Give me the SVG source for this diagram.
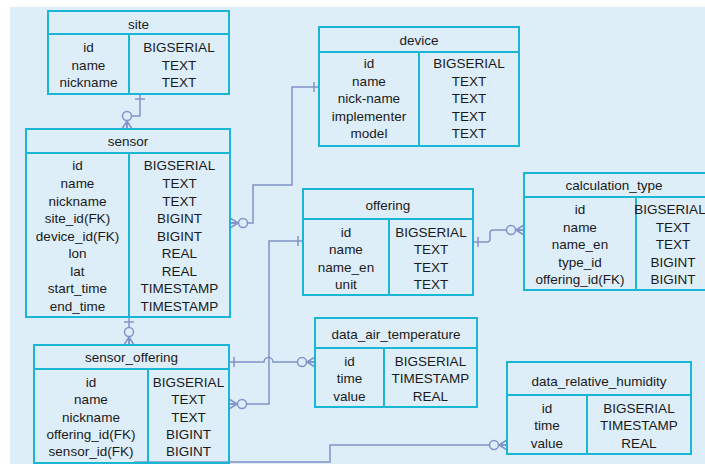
<svg xmlns="http://www.w3.org/2000/svg" width="705" height="464" viewBox="0 0 705 464">
<defs>
<style>
.bg{fill:#ddeef9}
.box{fill:none;stroke:#1ab6d6;stroke-width:2}
.t{font-family:"Liberation Sans","Noto Sans",Arial,sans-serif;font-size:13.5px;fill:#1a1a1a;text-anchor:middle}
.c{fill:none;stroke:#8393c9;stroke-width:1.5}
</style>
<marker id="one" markerUnits="userSpaceOnUse" orient="auto" viewBox="-2 -8 12 16" refX="0" refY="0" markerWidth="12" markerHeight="16" overflow="visible">
<path d="M5,-5 V5" fill="none" stroke="#8393c9" stroke-width="1.5"/>
</marker>
<marker id="many0" markerUnits="userSpaceOnUse" orient="auto" viewBox="-20 -8 22 16" refX="0" refY="0" markerWidth="22" markerHeight="16" overflow="visible">
<path d="M-8,0 L0,-5 M-8,0 L0,5 M-8,0 L0,0" fill="none" stroke="#8393c9" stroke-width="1.5"/>
<circle cx="-13" cy="0" r="4.5" fill="#ddeef9" stroke="#8393c9" stroke-width="1.5"/>
</marker>
</defs>
<rect x="0" y="0" width="705" height="464" fill="#ffffff"/>
<rect class="bg" x="10" y="7" width="695" height="457"/>

<g id="connectors">
<path class="c" d="M140,94 V116 H127 V129" marker-start="url(#one)" marker-end="url(#many0)"/>
<path class="c" d="M319,87 H292 V185 H253 V223 H230" marker-start="url(#one)" marker-end="url(#many0)"/>
<path class="c" d="M303,241 H269 V404 H229" marker-start="url(#one)" marker-end="url(#many0)"/>
<path class="c" d="M473,242 H487 Q490,242 490,239 V233 Q490,230 493,230 H524" marker-start="url(#one)" marker-end="url(#many0)"/>
<path class="c" d="M229,362 H264 A4.5,4.5 0 0 1 273,362 H315" marker-start="url(#one)" marker-end="url(#many0)"/>
<path class="c" d="M129,317 V345" marker-start="url(#one)" marker-end="url(#many0)"/>
<path class="c" d="M135,464 V462 H330 V445 H507" marker-end="url(#many0)"/>
</g>

<g id="site">
<rect class="box" x="48" y="11" width="181" height="83"/>
<path class="box" d="M48,34 H229 M129,34 V94"/>
<text class="t" x="138.5" y="29">site</text>
<text class="t" x="88.5" y="52">id</text><text class="t" x="179" y="52">BIGSERIAL</text>
<text class="t" x="88.5" y="70">name</text><text class="t" x="179" y="70">TEXT</text>
<text class="t" x="88.5" y="87">nickname</text><text class="t" x="179" y="87">TEXT</text>
</g>

<g id="device">
<rect class="box" x="319" y="27" width="200" height="119"/>
<path class="box" d="M319,52 H519 M419,52 V146"/>
<text class="t" x="419" y="45">device</text>
<text class="t" x="369" y="68">id</text><text class="t" x="469" y="68">BIGSERIAL</text>
<text class="t" x="369" y="86">name</text><text class="t" x="469" y="86">TEXT</text>
<text class="t" x="369" y="103">nick-name</text><text class="t" x="469" y="103">TEXT</text>
<text class="t" x="369" y="121">implementer</text><text class="t" x="469" y="121">TEXT</text>
<text class="t" x="369" y="138">model</text><text class="t" x="469" y="138">TEXT</text>
</g>

<g id="sensor">
<rect class="box" x="26" y="129" width="204" height="188"/>
<path class="box" d="M26,153 H230 M129,153 V317"/>
<text class="t" x="128" y="146">sensor</text>
<text class="t" x="77.5" y="170">id</text><text class="t" x="179.5" y="170">BIGSERIAL</text>
<text class="t" x="77.5" y="188">name</text><text class="t" x="179.5" y="188">TEXT</text>
<text class="t" x="77.5" y="206">nickname</text><text class="t" x="179.5" y="206">TEXT</text>
<text class="t" x="77.5" y="223">site_id(FK)</text><text class="t" x="179.5" y="223">BIGINT</text>
<text class="t" x="77.5" y="241">device_id(FK)</text><text class="t" x="179.5" y="241">BIGINT</text>
<text class="t" x="77.5" y="258">lon</text><text class="t" x="179.5" y="258">REAL</text>
<text class="t" x="77.5" y="276">lat</text><text class="t" x="179.5" y="276">REAL</text>
<text class="t" x="77.5" y="293">start_time</text><text class="t" x="179.5" y="293">TIMESTAMP</text>
<text class="t" x="77.5" y="311">end_time</text><text class="t" x="179.5" y="311">TIMESTAMP</text>
</g>

<g id="offering">
<rect class="box" x="303" y="189" width="170" height="106"/>
<path class="box" d="M303,219 H473 M389,219 V295"/>
<text class="t" x="388" y="210">offering</text>
<text class="t" x="346" y="237">id</text><text class="t" x="431" y="237">BIGSERIAL</text>
<text class="t" x="346" y="254">name</text><text class="t" x="431" y="254">TEXT</text>
<text class="t" x="346" y="272">name_en</text><text class="t" x="431" y="272">TEXT</text>
<text class="t" x="346" y="289">unit</text><text class="t" x="431" y="289">TEXT</text>
</g>

<g id="calculation_type">
<rect class="box" x="524" y="173" width="188" height="117"/>
<path class="box" d="M524,197 H712 M636,197 V290"/>
<text class="t" x="614" y="190">calculation_type</text>
<text class="t" x="580" y="214">id</text><text class="t" x="670" y="214" font-size="12.5">BIGSERIAL</text>
<text class="t" x="580" y="232">name</text><text class="t" x="673" y="232">TEXT</text>
<text class="t" x="580" y="249">name_en</text><text class="t" x="673" y="249">TEXT</text>
<text class="t" x="580" y="267">type_id</text><text class="t" x="673" y="267">BIGINT</text>
<text class="t" x="580" y="284">offering_id(FK)</text><text class="t" x="673" y="284">BIGINT</text>
</g>

<g id="sensor_offering">
<rect class="box" x="34" y="345" width="195" height="118"/>
<path class="box" d="M34,369 H229 M148,369 V463"/>
<text class="t" x="131.5" y="362">sensor_offering</text>
<text class="t" x="91" y="387">id</text><text class="t" x="188.5" y="387">BIGSERIAL</text>
<text class="t" x="91" y="404">name</text><text class="t" x="188.5" y="404">TEXT</text>
<text class="t" x="91" y="422">nickname</text><text class="t" x="188.5" y="422">TEXT</text>
<text class="t" x="91" y="439">offering_id(FK)</text><text class="t" x="188.5" y="439">BIGINT</text>
<text class="t" x="91" y="456">sensor_id(FK)</text><text class="t" x="188.5" y="456">BIGINT</text>
</g>

<g id="data_air_temperature">
<rect class="box" x="315" y="318" width="162" height="89"/>
<path class="box" d="M315,348 H477 M384,348 V407"/>
<text class="t" x="396" y="339">data_air_temperature</text>
<text class="t" x="349.5" y="366">id</text><text class="t" x="430.5" y="366">BIGSERIAL</text>
<text class="t" x="349.5" y="383">time</text><text class="t" x="430.5" y="383">TIMESTAMP</text>
<text class="t" x="349.5" y="401">value</text><text class="t" x="430.5" y="401">REAL</text>
</g>

<g id="data_relative_humidity">
<rect class="box" x="507" y="362" width="184" height="92"/>
<path class="box" d="M507,395 H691 M587,395 V454"/>
<text class="t" x="599" y="386">data_relative_humidity</text>
<text class="t" x="547" y="413">id</text><text class="t" x="639" y="413">BIGSERIAL</text>
<text class="t" x="547" y="430">time</text><text class="t" x="639" y="430">TIMESTAMP</text>
<text class="t" x="547" y="448">value</text><text class="t" x="639" y="448">REAL</text>
</g>
</svg>
